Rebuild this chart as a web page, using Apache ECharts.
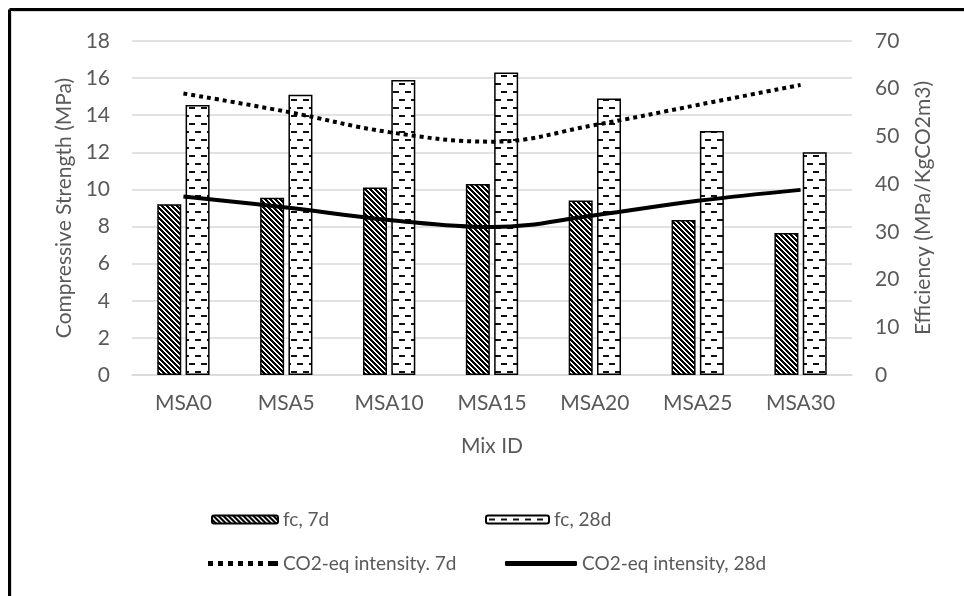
<!DOCTYPE html>
<html>
<head>
<meta charset="utf-8">
<script src="https://cdn.jsdelivr.net/npm/echarts@6/dist/echarts.min.js"></script>
<style>
  html, body { margin: 0; padding: 0; background: #fff; }
  #chart { width: 964px; height: 596px; }
</style>
</head>
<body>
<div id="chart"></div>
<script>
var categories = ['MSA0', 'MSA5', 'MSA10', 'MSA15', 'MSA20', 'MSA25', 'MSA30']
var fc7d = [9.2, 9.55, 10.1, 10.3, 9.4, 8.35, 7.65]
var fc28d = [14.55, 15.1, 15.9, 16.3, 14.9, 13.15, 12.0]
var co2Eq7d = [59.0, 55.2, 50.9, 48.9, 52.4, 56.6, 60.8]
var co2Eq28d = [37.4, 35.1, 32.5, 31.0, 33.5, 36.5, 38.8]

var txt = '#595959'
var font = 'Lato'

// diagonal hatch tile for fc 7d
function hatchTile() {
    var c = document.createElement('canvas')
    c.width = 5; c.height = 5
    var ctx = c.getContext('2d')
    ctx.fillStyle = '#fff'
    ctx.fillRect(0, 0, 5, 5)
    ctx.fillStyle = '#000'
    for (var y = 0; y < 5; y++) {
        for (var x = 0; x < 5; x++) {
            var k = ((x - y) % 5 + 5) % 5
            if (k < 3) ctx.fillRect(x, y, 1, 1)
        }
    }
    return c
}

// staggered short dashes for fc 28d
function dashTile() {
    var c = document.createElement('canvas')
    c.width = 12; c.height = 16
    var ctx = c.getContext('2d')
    ctx.fillStyle = '#fff'
    ctx.fillRect(0, 0, 12, 16)
    ctx.fillStyle = '#111'
    ctx.fillRect(3, 3, 6, 2)
    ctx.fillRect(9, 11, 3, 2)
    ctx.fillRect(0, 11, 3, 2)
    return c
}

var dotsIcon = 'path://M0,0h5v5h-5z M10,0h5v5h-5z M20,0h5v5h-5z M30,0h5v5h-5z M40,0h5v5h-5z M50,0h5v5h-5z M60,0h10v5h-10z'
var legendText = { color: txt, fontSize: 19, fontFamily: font }

var chart = echarts.init(document.getElementById('chart'))
var option = {
    backgroundColor: '#fff',
    animation: false,
    textStyle: { fontFamily: font },
    grid: { left: 132, right: 112, top: 41, bottom: 221 },
    graphic: [
        { type: 'line', shape: { x1: 9.5, y1: 9.5, x2: 9.5, y2: 596 }, style: { stroke: '#000', lineWidth: 3 } },
        { type: 'line', shape: { x1: 9.5, y1: 9.5, x2: 964, y2: 9.5 }, style: { stroke: '#000', lineWidth: 3 } },
        { type: 'line', shape: { x1: 11.5, y1: 12, x2: 11.5, y2: 596 }, style: { stroke: '#d9d9d9', lineWidth: 1 } },
        { type: 'line', shape: { x1: 12, y1: 11.5, x2: 964, y2: 11.5 }, style: { stroke: '#d9d9d9', lineWidth: 1 } },
    ],
    legend: [
        { data: ['fc, 7d'], left: 206, top: 505, itemWidth: 66, itemHeight: 8, textStyle: legendText },
        { data: ['fc, 28d'], left: 480, top: 505, itemWidth: 63, itemHeight: 8, textStyle: legendText },
        { data: [{ name: 'CO2-eq intensity. 7d', icon: dotsIcon }], left: 203, top: 549, itemWidth: 70, itemHeight: 5, textStyle: legendText },
        { data: [{ name: 'CO2-eq intensity, 28d', icon: 'roundRect' }], left: 500, top: 549, itemWidth: 72, itemHeight: 5, textStyle: legendText },
    ],
    xAxis: {
        type: 'category',
        data: categories,
        name: 'Mix ID',
        nameLocation: 'middle',
        nameGap: 61,
        nameTextStyle: { color: txt, fontSize: 21 },
        axisLine: { lineStyle: { color: '#d9d9d9', width: 1.5 } },
        axisTick: { show: false },
        axisLabel: { color: txt, fontSize: 21, margin: 18 },
    },
    yAxis: [
        {
            type: 'value',
            min: 0, max: 18, interval: 2,
            name: 'Compressive Strength (MPa)',
            nameLocation: 'middle',
            nameGap: 56,
            nameTextStyle: { color: txt, fontSize: 21 },
            axisLabel: { color: txt, fontSize: 21, margin: 22 },
            splitLine: { lineStyle: { color: '#d9d9d9', width: 1.5 } },
        },
        {
            type: 'value',
            min: 0, max: 70, interval: 10,
            name: 'Efficiency (MPa/KgCO2m3)',
            nameLocation: 'middle',
            nameGap: 61,
            nameTextStyle: { color: txt, fontSize: 21 },
            axisLabel: { color: txt, fontSize: 21, margin: 23 },
            splitLine: { show: false },
        },
    ],
    series: [
        {
            name: 'fc, 7d',
            type: 'bar',
            data: fc7d,
            barWidth: 24,
            barGap: '18%',
            itemStyle: { color: { image: hatchTile(), repeat: 'repeat' }, borderColor: '#000', borderWidth: 1.5 },
        },
        {
            name: 'fc, 28d',
            type: 'bar',
            data: fc28d,
            barWidth: 24,
            itemStyle: { color: { image: dashTile(), repeat: 'repeat' }, borderColor: '#000', borderWidth: 1.5 },
        },
        {
            name: 'CO2-eq intensity. 7d',
            type: 'line',
            yAxisIndex: 1,
            data: co2Eq7d,
            smooth: 0.4,
            symbol: 'none',
            lineStyle: { color: '#000', width: 4, type: [4, 4] },
            itemStyle: { color: '#000' },
        },
        {
            name: 'CO2-eq intensity, 28d',
            type: 'line',
            yAxisIndex: 1,
            data: co2Eq28d,
            smooth: 0.4,
            symbol: 'none',
            lineStyle: { color: '#000', width: 4 },
            itemStyle: { color: '#000' },
        },
    ],
}
chart.setOption(option)
</script>
</body>
</html>
